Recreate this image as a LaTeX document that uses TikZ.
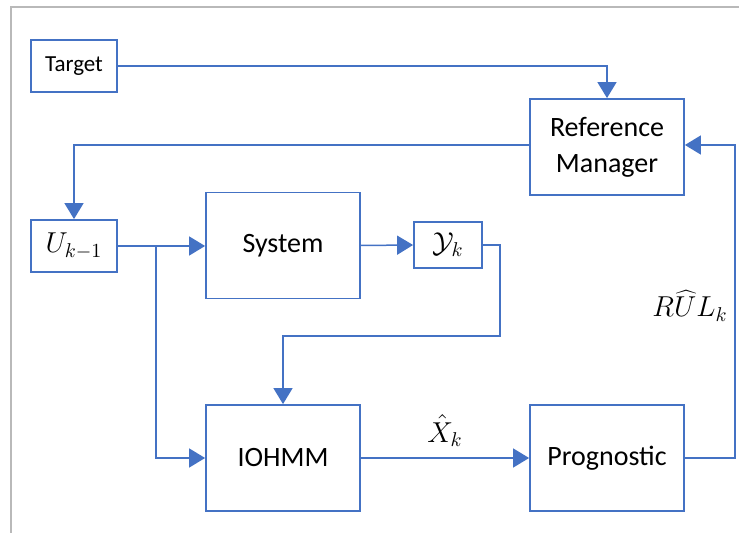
\documentclass[tikz,border=0pt]{standalone}
\usepackage{fontspec}
\setmainfont{Carlito}
\usetikzlibrary{arrows.meta,calc}
\definecolor{lineblue}{HTML}{4472C4}
\tikzset{>={Triangle[length=8pt,width=9.5pt]}}
\tikzstyle{block}=[rectangle,draw=lineblue,line width=0.9pt,fill=white,align=center,font=\fontsize{14}{18}\selectfont,minimum width=77pt,minimum height=53pt,inner sep=0pt]
\tikzstyle{small}=[rectangle,draw=lineblue,line width=0.9pt,fill=white,font=\fontsize{14}{17}\selectfont,minimum width=43pt,minimum height=26pt,inner sep=0pt]
\tikzstyle{flow}=[->,draw=lineblue,line width=0.75pt]

\begin{document}
\begin{tikzpicture}[x=0.5pt,y=-0.5pt]
	\useasboundingbox (0,0) rectangle (739,533);
	\draw[gray!55,line width=0.6pt] (11,533) |- (739,7);

	\node[small,font=\fontsize{11.5}{13}\selectfont] (target) at (74,66) {Target};
	\node[block,minimum height=48pt] (refman) at (607,147) {Reference\\Manager};
	\node[small] (u) at (74,246) {$U_{k-1}$};
	\node[block] (system) at (283,245.5) {System};
	\node[small,minimum width=34pt,minimum height=23pt] (yk) at (448,245) {$\mathcal{Y}_k$};
	\node[block] (iohmm) at (283,458) {IOHMM};
	\node[block] (prog) at (607,458) {Prognostic};

	\coordinate (branch) at (156,246);
	\coordinate (ykturn) at (500,336);
	\coordinate (rulturn) at (735,145);

	\draw[flow] (target.east) -| (refman.north);
	\draw[flow] (refman.west |- 0,145) -| (u.north);
	\draw[flow] (u.east) -- (u.east -| system.west);
	\draw[flow] (branch) |- (iohmm.west);
	\draw[flow] (system.east) -- (yk.west);
	\draw[flow] (yk.east) -| (ykturn) -| (iohmm.north);
	\draw[flow] (iohmm.east) -- node[above=2pt,font=\fontsize{14}{17}\selectfont] (xhat) {$\hat{X}_k$} (prog.west);
	\draw[flow] (prog.east) -| (rulturn) -- (refman.east |- rulturn);

	\node[font=\fontsize{14}{17}\selectfont] (rul) at (690,306) {$R\widehat{U}L_k$};
\end{tikzpicture}
\end{document}
